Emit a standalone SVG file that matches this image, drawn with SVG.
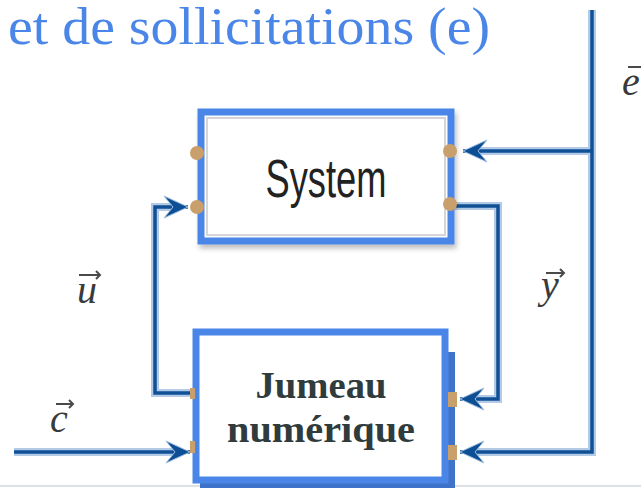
<svg xmlns="http://www.w3.org/2000/svg" width="641" height="491" viewBox="0 0 641 491">
<style>
.halo{fill:none;stroke:#b3cae6;stroke-width:8;stroke-linejoin:miter}
.wire{fill:none;stroke:#0f5097;stroke-width:3.5;stroke-linejoin:miter}
.box{fill:#fff;stroke:#4a86e8;stroke-width:7}
.port{fill:#c9a06b}
.lbl{font-family:"Liberation Serif",serif;font-style:italic;font-size:40px;fill:#3a3a3a}
.vec{fill:none;stroke:#4a4a4a;stroke-width:2}
</style>
<defs>
<marker id="ah" markerUnits="userSpaceOnUse" markerWidth="30" markerHeight="26" refX="24" refY="11" orient="auto" overflow="visible">
<path d="M0,0 L24,11 L0,22 L9,11 Z" fill="#0d4f94" stroke="#9dbbe0" stroke-width="1"/>
</marker>
<filter id="sh" x="-10%" y="-10%" width="130%" height="130%">
<feDropShadow dx="2" dy="4" stdDeviation="2.5" flood-color="#000" flood-opacity="0.25"/>
</filter>
</defs>
<rect width="641" height="491" fill="#fff"/>
<line x1="0" y1="486" x2="641" y2="486" stroke="#dde1e6" stroke-width="2"/>
<text x="8" y="44" font-family="Liberation Serif, serif" font-size="52" fill="#4a86e8" textLength="482" lengthAdjust="spacingAndGlyphs">et de sollicitations (e)</text>

<g id="connectors">
<path class="halo" d="M592,10 V452 H470"/>
<path class="halo" d="M592,151 H473"/>
<path class="halo" d="M452,206 H498 V399 H470"/>
<path class="halo" d="M196,393 H155 V207 H178"/>
<path class="halo" d="M14,452 H180"/>
<path class="wire" d="M592,10 V452 H460" marker-end="url(#ah)"/>
<path class="wire" d="M592,151 H463" marker-end="url(#ah)"/>
<path class="wire" d="M452,206 H498 V399 H460" marker-end="url(#ah)"/>
<path class="wire" d="M196,393 H155 V207 H188" marker-end="url(#ah)"/>
<path class="wire" d="M14,452 H190" marker-end="url(#ah)"/>
</g>

<g id="system">
<rect class="box" x="201" y="112" width="250" height="129" filter="url(#sh)"/>
<rect x="207" y="118" width="238" height="117" fill="none" stroke="#d6d6d6" stroke-width="2"/>
<text x="326" y="197" text-anchor="middle" font-family="Liberation Sans, sans-serif" font-size="54" fill="#222" textLength="121" lengthAdjust="spacingAndGlyphs">System</text>
<circle class="port" cx="197" cy="153" r="7"/>
<circle class="port" cx="197" cy="207" r="7"/>
<circle class="port" cx="450" cy="151" r="7"/>
<circle class="port" cx="450" cy="204" r="7"/>
</g>

<g id="jumeau">
<rect x="200" y="352" width="255" height="136" fill="#3f73c9"/>
<rect class="box" x="196" y="332" width="249" height="148" stroke-width="6"/>
<text x="321" y="398" text-anchor="middle" font-family="Liberation Serif, serif" font-weight="bold" font-size="38" fill="#2f3b3c" textLength="131" lengthAdjust="spacingAndGlyphs">Jumeau</text>
<text x="321" y="442" text-anchor="middle" font-family="Liberation Serif, serif" font-weight="bold" font-size="38" fill="#2f3b3c" textLength="188" lengthAdjust="spacingAndGlyphs">numérique</text>
<rect class="port" x="190" y="388" width="5" height="11"/>
<rect class="port" x="190" y="441" width="5" height="12"/>
<rect class="port" x="448" y="392" width="9" height="15"/>
<rect class="port" x="448" y="445" width="9" height="15"/>
</g>

<g id="labels">
<text class="lbl" x="77" y="303">u&#x20D7;</text>
<path class="vec" d="M79,275 H100 M96,271 L100,275 L96,279"/>
<text class="lbl" x="50" y="432">c&#x20D7;</text>
<path class="vec" d="M56,404 H73 M69,400 L73,404 L69,408"/>
<text class="lbl" x="541" y="298">y&#x20D7;</text>
<path class="vec" d="M546,273 H564 M560,269 L564,273 L560,277"/>
<text class="lbl" x="622" y="95">e&#x20D7;</text>
<path class="vec" d="M628,67 H641"/>
</g>
</svg>
